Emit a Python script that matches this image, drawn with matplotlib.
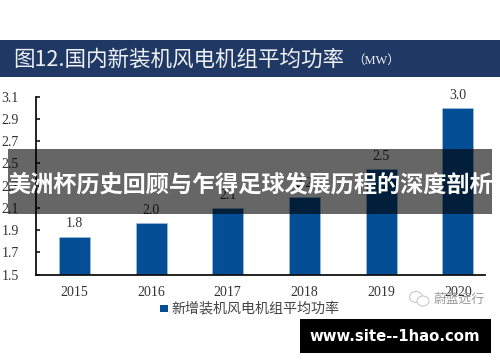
import matplotlib
matplotlib.use("Agg")
import matplotlib.pyplot as plt
from matplotlib.patches import Rectangle, Ellipse

years = ["2015", "2016", "2017", "2018", "2019", "2020"]
values = [1.84, 1.96, 2.10, 2.20, 2.45, 3.00]
value_labels = ["1.8", "2.0", "2.1", "2.2", "2.5", "3.0"]
y_ticks = [1.5, 1.7, 1.9, 2.1, 2.3, 2.5, 2.7, 2.9, 3.1]
title = "图12.国内新装机风电机组平均功率"
unit = "（MW）"
legend_label = "新增装机风电机组平均功率"
overlay_text = "美洲杯历史回顾与乍得足球发展历程的深度剖析"
watermark = "蔚蓝远行"
site = "www.site--1hao.com"

W, H = 500, 362
CJK = ["Noto Sans CJK SC", "DejaVu Sans"]
SERIF = ["Liberation Serif", "DejaVu Serif"]
UNIT_FONT = ["Liberation Serif", "Noto Sans CJK SC"]
BLUE = "#034e95"
INK = "#333333"

fig = plt.figure(figsize=(W / 100, H / 100), dpi=100, facecolor="white")

def fx(x):
    return x / W

def fy(y):
    return 1 - y / H

# title band
fig.add_artist(Rectangle((0, fy(77)), 1, 37 / H, transform=fig.transFigure,
                         facecolor="#1f3864", edgecolor="none", zorder=0))
fig.text(fx(13), fy(59.5), title, family=CJK, fontsize=15.5, color="#eef1f6",
         va="center", ha="left")
fig.text(fx(352), fy(60.5), unit, family=UNIT_FONT, fontsize=9, color="#eef1f6",
         va="center", ha="left")

# chart
ax = fig.add_axes([fx(36), fy(274.5), (485 - 36) / W, (274.5 - 96.7) / H])
ax.patch.set_alpha(0)
positions = list(range(len(years)))
ax.bar(positions, values, width=0.405, color=BLUE, edgecolor="#a9c4e0", linewidth=0.4, zorder=2)
ax.set_xlim(-0.5, 5.354)
ax.set_ylim(1.5, 3.1)
ax.set_yticks(y_ticks)
ax.set_yticklabels([f"{t:.1f}" for t in y_ticks], family=SERIF, fontsize=10, color=INK)
ax.set_xticks(positions)
ax.set_xticklabels(years, family=SERIF, fontsize=10, color=INK)
ax.tick_params(axis="y", direction="in", length=3, width=1.1, pad=12.5, color="black")
ax.tick_params(axis="x", length=0, pad=8)
for s in ("top", "right"):
    ax.spines[s].set_visible(False)
for s in ("left", "bottom"):
    ax.spines[s].set_linewidth(1.3)
    ax.spines[s].set_color("#111111")
for p, v, lab in zip(positions, values, value_labels):
    ax.annotate(lab, (p, v), xytext=(0, 4.5), textcoords="offset points", ha="center",
                va="bottom", family=SERIF, fontsize=10, color=INK, zorder=1)

# legend
fig.add_artist(Rectangle((fx(160), fy(312)), 8 / W, 7 / H, transform=fig.transFigure,
                         facecolor=BLUE, edgecolor="none"))
fig.text(fx(171), fy(308.5), legend_label, family=CJK, fontsize=10.1, color="#444444",
         va="center", ha="left")

# watermark
fig.text(fx(434), fy(299), watermark, family=CJK, fontsize=9.2, color="#9a9a9a",
         va="center", ha="left", zorder=3)
fig.add_artist(Ellipse((fx(416), fy(297)), 13 / W, 11 / H,
               transform=fig.transFigure, facecolor="white", edgecolor="#c4c4c4", linewidth=0.7, zorder=3))
fig.add_artist(Ellipse((fx(423), fy(301)), 12 / W, 10 / H,
               transform=fig.transFigure, facecolor="white", edgecolor="#c4c4c4", linewidth=0.7, zorder=3))

# overlay band
fig.add_artist(Rectangle((fx(8), fy(214)), 484 / W, 65 / H, transform=fig.transFigure,
                         facecolor="black", edgecolor="none", alpha=0.6, zorder=5))
fig.text(fx(250), fy(185), overlay_text, family=CJK, fontsize=16.7, fontweight="bold",
         color="white", va="center", ha="center", zorder=6)

# site badge
fig.add_artist(Rectangle((fx(300), fy(353)), 191 / W, 34 / H, transform=fig.transFigure,
                         facecolor="black", edgecolor="none", zorder=5))
fig.text(fx(395), fy(336.5), site, family="DejaVu Sans", fontsize=10.7, fontweight="bold",
         color="white", va="center", ha="center", zorder=6)

fig.savefig("out.png", dpi=100)
